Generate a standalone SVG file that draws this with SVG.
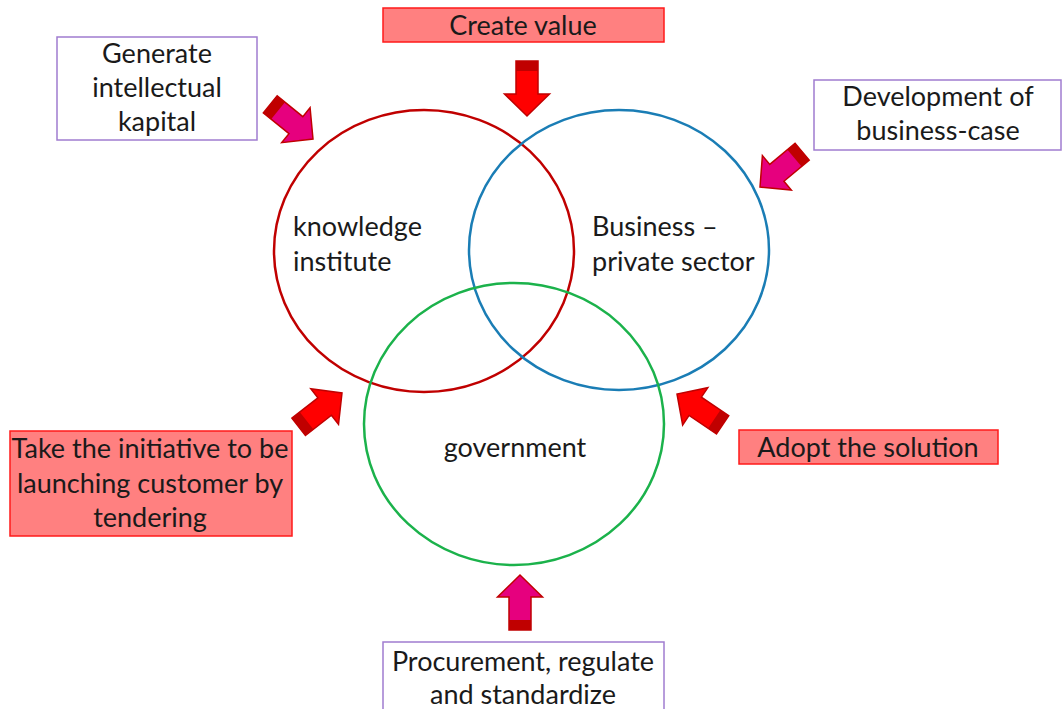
<svg xmlns="http://www.w3.org/2000/svg" width="1062" height="709" viewBox="0 0 1062 709">
<style>
  text { font-family: Lato, "Open Sans", "Liberation Sans", sans-serif; font-size: 27px; fill: #1a1a1a; }
  .c { text-anchor: middle; }
  .pbox { fill: #ffffff; stroke: #a07cd0; stroke-width: 1.5; }
  .rbox { fill: #ff8080; stroke: #ff1a1a; stroke-width: 1.5; }
  .ring { fill: none; stroke-width: 2.5; }
  .ar-red { fill: #ff0000; stroke: #c00000; stroke-width: 1.5; stroke-linejoin: miter; }
  .ar-pink { fill: #e6007e; stroke: #c00000; stroke-width: 1.5; stroke-linejoin: miter; }
  .tail { fill: #c00000; stroke: none; }
</style>
<defs>
  <g id="arrowRed">
    <path class="ar-red" d="M -55,-11 L -22,-11 L -22,-22.5 L 0,0 L -22,22.5 L -22,11 L -55,11 Z"/>
    <rect class="tail" x="-55" y="-11" width="10" height="22"/>
  </g>
  <g id="arrowPink">
    <path class="ar-pink" d="M -55,-11 L -22,-11 L -22,-22.5 L 0,0 L -22,22.5 L -22,11 L -55,11 Z"/>
    <rect class="tail" x="-55" y="-11" width="10" height="22"/>
  </g>
</defs>
<rect width="1062" height="709" fill="#ffffff"/>

<g id="circles">
  <g id="knowledge-institute">
    <ellipse class="ring" cx="424" cy="251" rx="150" ry="141" stroke="#c00000"/>
    <text x="293" y="236">knowledge</text>
    <text x="293" y="271">institute</text>
  </g>
  <g id="business">
    <ellipse class="ring" cx="619" cy="250" rx="150" ry="140" stroke="#1a7db5"/>
    <text x="592" y="236">Business –</text>
    <text x="592" y="271">private sector</text>
  </g>
  <g id="government">
    <ellipse class="ring" cx="514" cy="424" rx="150" ry="141" stroke="#1bb24b"/>
    <text class="c" x="515" y="457">government</text>
  </g>
</g>

<g id="connectors">
  <use href="#arrowRed" transform="translate(527,116) rotate(90)"/>
  <use href="#arrowPink" transform="translate(313,139) rotate(39)"/>
  <use href="#arrowPink" transform="translate(760,187) rotate(140)"/>
  <use href="#arrowPink" transform="translate(520,575) rotate(-90)"/>
  <use href="#arrowRed" transform="translate(342,393) rotate(-38)"/>
  <use href="#arrowRed" transform="translate(677,394) rotate(-146)"/>
</g>

<g id="create-value">
  <rect class="rbox" x="383" y="8" width="281" height="34"/>
  <text class="c" x="523" y="35">Create value</text>
</g>
<g id="generate-kapital">
  <rect class="pbox" x="57" y="37" width="200" height="103"/>
  <text class="c" x="157" y="63">Generate</text>
  <text class="c" x="157" y="97">intellectual</text>
  <text class="c" x="157" y="131">kapital</text>
</g>
<g id="development">
  <rect class="pbox" x="814" y="80" width="247" height="70"/>
  <text class="c" x="938" y="106">Development of</text>
  <text class="c" x="938" y="140">business-case</text>
</g>
<g id="take-initiative">
  <rect class="rbox" x="10" y="431" width="282" height="105"/>
  <text class="c" x="150" y="458">Take the initiative to be</text>
  <text class="c" x="150" y="493">launching customer by</text>
  <text class="c" x="150" y="527">tendering</text>
</g>
<g id="adopt">
  <rect class="rbox" x="739" y="430" width="259" height="34"/>
  <text class="c" x="868" y="457">Adopt the solution</text>
</g>
<g id="procurement">
  <rect class="pbox" x="383" y="642" width="281" height="70"/>
  <text class="c" x="523" y="671">Procurement, regulate</text>
  <text class="c" x="523" y="704">and standardize</text>
</g>
</svg>
